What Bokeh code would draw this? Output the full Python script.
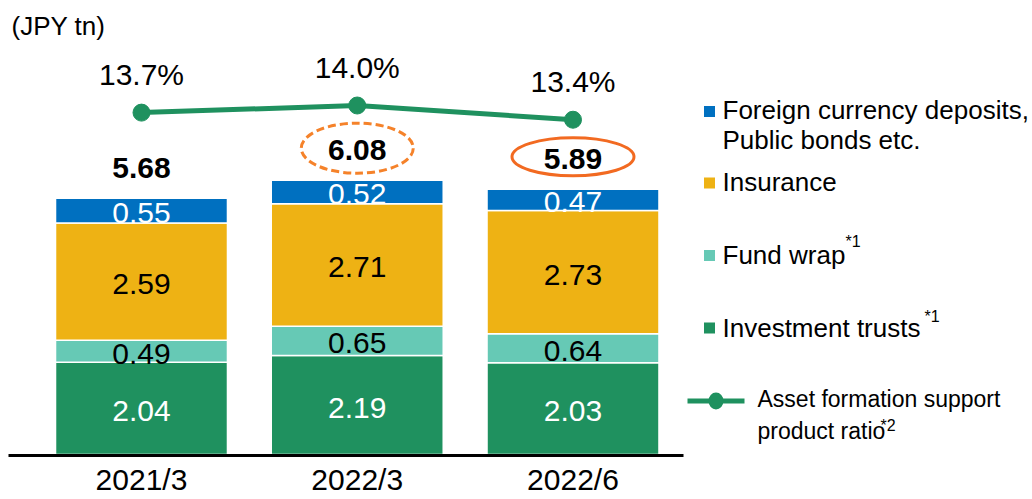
from bokeh.plotting import figure
from bokeh.models import Range1d, Label, ColumnDataSource, FixedTicker
from bokeh.core.properties import value
from bokeh.embed import file_html
from bokeh.resources import INLINE

# ---------------- data ----------------
periods = ["2021/3", "2022/3", "2022/6"]
investment_trusts = [2.04, 2.19, 2.03]
fund_wrap = [0.49, 0.65, 0.64]
insurance = [2.59, 2.71, 2.73]
foreign_public = [0.55, 0.52, 0.47]
totals = [5.68, 6.08, 5.89]
ratio_pct = [13.7, 14.0, 13.4]
highlight = ["none", "dashed", "solid"]

series_keys = ["inv", "fw", "ins", "fx"]
series_values = [investment_trusts, fund_wrap, insurance, foreign_public]
series_labels = ["Investment trusts", "Fund wrap", "Insurance",
                 "Foreign currency deposits,\nPublic bonds etc."]
series_colors = ["#1F915F", "#66C9B5", "#EEB214", "#0070C0"]
label_colors = ["white", "black", "black", "white"]
line_color = "#1F915F"

FONT = "Liberation Sans"

# ---------------- geometry (styling constants) ----------------
W, H = 1032, 499
FRAME_H = 455
PXU = 215.75          # px per category
PYU = 45.2            # px per JPY tn
X0 = -141 / PXU
Y0 = -1 / PYU
PCT_PXU = 23.7
PCT_LO = 14.0 - (FRAME_H - 105) / PCT_PXU
LBL_SHIFT = 9         # Label baseline correction (px)


def dx(px):
    return X0 + px / PXU


def dy(py):
    return Y0 + (FRAME_H - py) / PYU


def ly(py):
    return dy(py - LBL_SHIFT)


p = figure(width=W, height=H, output_backend="svg", toolbar_location=None,
           x_range=Range1d(X0, X0 + W / PXU),
           y_range=Range1d(Y0, Y0 + FRAME_H / PYU),
           y_axis_location=None,
           min_border_left=0, min_border_right=0, min_border_top=0,
           min_border_bottom=H - FRAME_H)
p.extra_y_ranges = {"pct": Range1d(PCT_LO, PCT_LO + FRAME_H / PCT_PXU)}
p.outline_line_color = None
p.grid.grid_line_color = None
p.background_fill_color = "white"
p.border_fill_color = "white"

xs = list(range(len(periods)))

# x axis
ax = p.xaxis[0]
ax.ticker = FixedTicker(ticks=xs)
ax.major_label_overrides = {i: s for i, s in enumerate(periods)}
ax.bounds = (dx(8), dx(683))
ax.axis_line_width = 3
ax.axis_line_color = "black"
ax.major_tick_line_color = None
ax.minor_tick_line_color = None
ax.major_tick_out = 0
ax.major_label_standoff = 7
ax.major_label_text_font = FONT
ax.major_label_text_font_size = "30px"
ax.major_label_text_color = "black"

# stacked bars
data = {"x": xs}
for k, v in zip(series_keys, series_values):
    data[k] = v
src = ColumnDataSource(data)
p.vbar_stack(series_keys, x="x", width=0.797, color=series_colors,
             line_color="white", line_width=1.5, source=src)

# segment labels
bottoms = [0.0] * len(xs)
for vals, col in zip(series_values, label_colors):
    centers = [b + v / 2 - 2.5 / PYU for b, v in zip(bottoms, vals)]
    p.text(x=xs, y=centers, text=[f"{v:.2f}" for v in vals],
           text_align="center", text_baseline="middle",
           text_font=value(FONT), text_font_size="30px", text_color=col)
    bottoms = [b + v for b, v in zip(bottoms, vals)]

# totals
tot_y = [t + 29.5 / PYU for t in totals]
p.text(x=xs, y=tot_y, text=[f"{t:.2f}" for t in totals],
       text_align="center", text_baseline="middle",
       text_font=value(FONT), text_font_size="30px", text_font_style="bold",
       text_color="black")

# highlight ellipses
for i, h in enumerate(highlight):
    if h == "dashed":
        p.ellipse(x=[xs[i]], y=[totals[i] + 31.5 / PYU], width=112, height=50,
                  width_units="screen", height_units="screen",
                  fill_color=None, line_color="#F5822A", line_width=3,
                  line_dash="8 4")
    elif h == "solid":
        p.ellipse(x=[xs[i]], y=[totals[i] + 31.5 / PYU], width=122, height=38,
                  width_units="screen", height_units="screen",
                  fill_color=None, line_color="#F26A21", line_width=3)

# ratio line
p.line(x=xs, y=ratio_pct, y_range_name="pct", line_color=line_color,
       line_width=5)
p.scatter(x=xs, y=ratio_pct, y_range_name="pct", size=17,
          fill_color=line_color, line_color=line_color)
p.text(x=xs, y=[r + 38 / PCT_PXU for r in ratio_pct],
       text=[f"{r:.1f}%" for r in ratio_pct], y_range_name="pct",
       text_align="center", text_baseline="middle",
       text_font=value(FONT), text_font_size="30px", text_color="black")

# unit label
p.add_layout(Label(x=dx(11), y=ly(34), text="(JPY tn)", text_font=FONT,
                   text_font_size="26px", text_baseline="alphabetic",
                   text_color="black"))

# legend (manual)
leg_sq_y = [327.5, 255, 182.5, 111]
leg_txt_y = [336, 263.3, 190.7, 118.3]
for col, lab, sy, ty in zip(series_colors, series_labels, leg_sq_y, leg_txt_y):
    p.rect(x=[dx(709)], y=[dy(sy)], width=11, height=11,
           width_units="screen", height_units="screen",
           fill_color=col, line_color=None)
    lines = lab.split("\n")
    for j, ln in enumerate(lines):
        p.add_layout(Label(x=dx(722), y=ly(ty + j * 30), text=ln,
                           text_font=FONT, text_font_size="26px",
                           text_baseline="alphabetic", text_color="black"))

p.add_layout(Label(x=dx(845), y=ly(250), text="*1", text_font=FONT,
                   text_font_size="16px", text_baseline="alphabetic",
                   text_color="black"))
p.add_layout(Label(x=dx(924), y=ly(325), text="*1", text_font=FONT,
                   text_font_size="16px", text_baseline="alphabetic",
                   text_color="black"))

p.line(x=[dx(687), dx(744)], y=[dy(400.5), dy(400.5)], line_color=line_color,
       line_width=5)
p.ellipse(x=[dx(715.5)], y=[dy(400.5)], width=15, height=17,
          width_units="screen", height_units="screen",
          fill_color=line_color, line_color=None)
p.add_layout(Label(x=dx(757), y=ly(407.5), text="Asset formation support",
                   text_font=FONT, text_font_size="23px",
                   text_baseline="alphabetic", text_color="black"))
p.add_layout(Label(x=dx(757), y=ly(439), text="product ratio",
                   text_font=FONT, text_font_size="23px",
                   text_baseline="alphabetic", text_color="black"))
p.add_layout(Label(x=dx(880), y=ly(434), text="*2", text_font=FONT,
                   text_font_size="16px", text_baseline="alphabetic",
                   text_color="black"))

open("out.html", "w").write(file_html(p, INLINE))
